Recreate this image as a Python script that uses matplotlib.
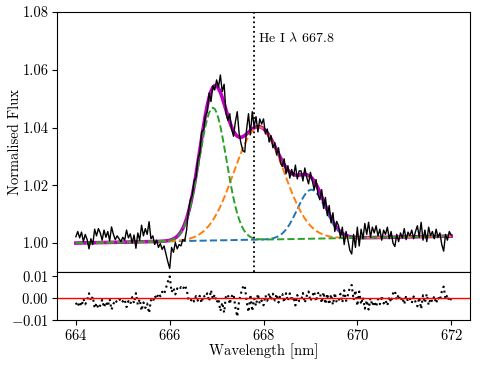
import numpy as np
import matplotlib
matplotlib.use("Agg")
import matplotlib.pyplot as plt

plt.rcParams['font.family'] = 'serif'
plt.rcParams['font.serif'] = ['cmr10']
plt.rcParams['mathtext.fontset'] = 'cm'
plt.rcParams['axes.formatter.use_mathtext'] = True
plt.rcParams['font.size'] = 10.5

# observed spectrum (normalised flux), 664 -> 672 nm
flux = [
    1.0022, 1.0040, 1.0018, 1.0038, 1.0005, 1.0030, 1.0012, 0.9980, 1.0015, 0.9995,
    1.0048, 1.0025, 1.0050, 1.0035, 1.0010, 1.0045, 1.0020, 1.0040, 1.0008, 1.0056,
    1.0030, 1.0012, 1.0025, 1.0015, 1.0005, 1.0020, 1.0010, 1.0045, 1.0018, 1.0032,
    1.0000, 1.0028, 0.9982, 1.0035, 1.0010, 1.0062, 1.0025, 1.0050, 1.0030, 1.0074,
    1.0015, 1.0025, 0.9995, 1.0010, 0.9985, 0.9998, 0.9978, 0.9990, 0.9962, 0.9935,
    0.9912, 0.9985, 0.9968, 1.0002, 0.9980, 0.9995, 0.9990, 1.0012, 1.0008, 1.0045,
    1.0112, 1.0150, 1.0165, 1.0215, 1.0228, 1.0290, 1.0310, 1.0385, 1.0392, 1.0440,
    1.0455, 1.0520, 1.0490, 1.0545, 1.0530, 1.0565, 1.0540, 1.0582, 1.0525, 1.0550,
    1.0450, 1.0425, 1.0448, 1.0395, 1.0370, 1.0420, 1.0455, 1.0380, 1.0345, 1.0320,
    1.0315, 1.0395, 1.0448, 1.0375, 1.0455, 1.0402, 1.0438, 1.0385, 1.0430, 1.0412,
    1.0430, 1.0378, 1.0395, 1.0350, 1.0372, 1.0330, 1.0348, 1.0305, 1.0330, 1.0280,
    1.0265, 1.0292, 1.0240, 1.0268, 1.0225, 1.0255, 1.0232, 1.0270, 1.0222, 1.0250,
    1.0250, 1.0215, 1.0260, 1.0228, 1.0205, 1.0245, 1.0215, 1.0185, 1.0220, 1.0170,
    1.0150, 1.0185, 1.0120, 1.0158, 1.0095, 1.0130, 1.0070, 1.0105, 1.0040, 1.0075,
    1.0060, 1.0020, 1.0055, 0.9995, 1.0040, 1.0010, 0.9975, 0.9962, 1.0030, 0.9985,
    1.0055, 0.9990, 1.0048, 1.0015, 1.0068, 1.0030, 1.0072, 1.0020, 1.0055, 1.0035,
    1.0060, 1.0025, 1.0048, 1.0010, 1.0045, 1.0030, 1.0055, 1.0015, 1.0040, 1.0000,
    0.9988, 1.0030, 1.0005, 1.0035, 1.0018, 1.0050, 1.0012, 1.0038, 1.0025, 1.0045,
    1.0015, 1.0040, 1.0060, 1.0020, 1.0072, 1.0010, 1.0045, 1.0005, 1.0055, 1.0025,
    1.0040, 1.0015, 1.0048, 1.0020, 1.0035, 0.9995, 0.9972, 1.0030, 1.0010, 1.0040,
    1.0028,
]
wl_range = [664.0, 672.0]

# fitted model: linear continuum + 3 gaussians (blue, orange, green)
cont_at_664 = 1.0000
cont_slope = 0.0003
g_centre = [669.02, 667.90, 666.92]
g_amp = [0.017, 0.039, 0.046]
g_sigma = [0.30, 0.53, 0.29]
g_colors = ['tab:blue', 'tab:orange', 'tab:green']

line_wl = 667.8
line_label = r'He I $\lambda$ 667.8'

flux = np.array(flux)
wl = np.linspace(wl_range[0], wl_range[1], len(flux))
cont = cont_at_664 + cont_slope * (wl - wl_range[0])
comps = [a * np.exp(-(wl - c)**2 / (2 * s**2)) for c, a, s in zip(g_centre, g_amp, g_sigma)]
model = cont + sum(comps)
resid = model - flux

fig = plt.figure(figsize=(4.8, 3.66), dpi=100)
ax = fig.add_axes([0.119, 0.257, 0.860, 0.710])
axr = fig.add_axes([0.119, 0.126, 0.860, 0.131], sharex=ax)

ax.plot(wl, model, color='m', lw=2.6)
for comp, col in zip(comps, g_colors):
    ax.plot(wl, cont + comp, '--', color=col, lw=1.4)
ax.plot(wl, flux, color='k', lw=1.0)
ax.axvline(line_wl, color='k', ls=':', lw=1.3)
ax.text(line_wl + 0.09, 1.071, line_label, ha='left', va='center', fontsize=10)

ax.set_ylim(0.99, 1.08)
ax.set_yticks([1.00, 1.02, 1.04, 1.06, 1.08])
ax.set_yticklabels(['1.00', '1.02', '1.04', '1.06', '1.08'])
ax.set_ylabel('Normalised Flux')
ax.yaxis.set_label_coords(-0.086, 0.5)
ax.tick_params(labelbottom=False, pad=2.5)

axr.plot(wl, resid, 'k:', lw=1.5)
axr.axhline(0, color='r', lw=1.0)
axr.set_ylim(-0.01, 0.0118)
axr.set_yticks([-0.01, 0.0, 0.01])
axr.set_xticks([664, 666, 668, 670, 672])
axr.tick_params(pad=2.5)
axr.set_xlabel('Wavelength [nm]')
axr.xaxis.set_label_coords(0.5, -0.48)

fig.savefig('out.png', dpi=100)
